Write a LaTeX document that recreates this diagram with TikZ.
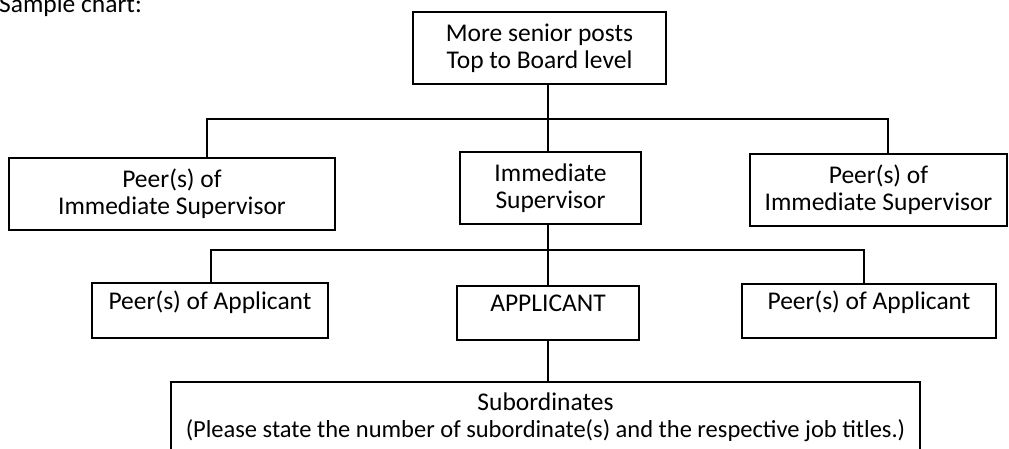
\documentclass[tikz,border=0pt]{standalone}
\usepackage{fontspec}
\setmainfont{Carlito}
\newcommand\chartfont{\fontsize{25.5}{27}\selectfont}
\newcommand\smallchartfont{\fontsize{24.5}{27}\selectfont}
\begin{document}
\begin{tikzpicture}[x=1pt,y=-1pt,
  box/.style={draw, line width=1.7pt, inner sep=0pt, align=center, font=\chartfont, minimum height=72pt},
  onebox/.style={box, minimum height=54pt, text height=17pt, text depth=19.4pt},
  conn/.style={line width=2pt}]
\useasboundingbox (0,0) rectangle (1009,449);
\node[anchor=base west, inner sep=0pt, font=\chartfont] (title) at (-1,12.7) {Sample chart:};
\node[box, minimum width=253pt] (top) at (539.5,48) {More senior posts\\Top to Board level};
\node[box, minimum width=326pt] (pis1) at (172,194) {Peer(s) of\\Immediate Supervisor};
\node[box, minimum width=181pt] (is) at (550.5,188) {Immediate\\Supervisor};
\node[box, minimum width=257pt] (pis2) at (878.5,190) {Peer(s) of\\Immediate Supervisor};
\node[onebox, minimum width=236pt, minimum height=55pt] (pa1) at (210,310.5) {Peer(s) of Applicant};
\node[onebox, minimum width=182pt] (app) at (548,313) {APPLICANT};
\node[onebox, minimum width=254pt] (pa2) at (869,311) {Peer(s) of Applicant};
\node[box, anchor=north, minimum width=749pt, minimum height=0pt, inner ysep=11pt, text depth=90pt] (sub) at (545.5,381) {Subordinates\\{\smallchartfont(Please state the number of subordinate(s) and the respective job titles.)}};
\coordinate (d1l) at (207,119.5);
\coordinate (d1r) at (888,119.5);
\coordinate (d2l) at (211,250);
\coordinate (d2r) at (864,250);
\draw[conn] (top.south -| app.north) -- (is.north -| app.north);
\draw[conn] (d1l |- pis1.north) -- (d1l) -- (d1r) -- (d1r |- pis2.north);
\draw[conn] (is.south -| app.north) -- (app.north);
\draw[conn] (d2l |- pa1.north) -- (d2l) -- (d2r) -- (d2r |- pa2.north);
\draw[conn] (app.south) -- (sub.north -| app.south);
\end{tikzpicture}
\end{document}
